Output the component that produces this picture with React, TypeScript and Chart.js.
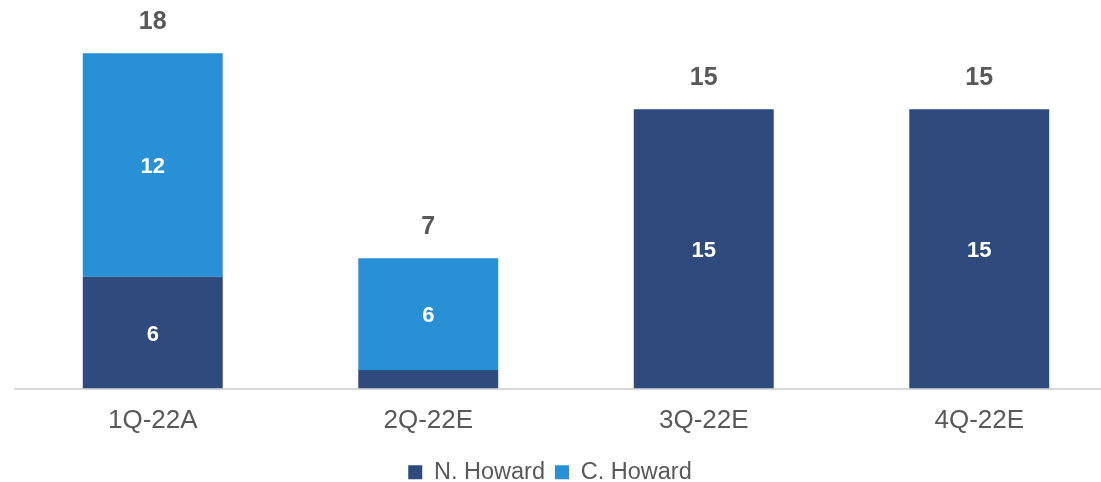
import React, { useEffect, useRef } from "react";
import { Chart, registerables } from "chart.js";

Chart.register(...registerables);

const categories = ["1Q-22A", "2Q-22E", "3Q-22E", "4Q-22E"];
const nHoward = [6, 1, 15, 15];
const cHoward = [12, 6, 0, 0];
const seriesNames = ["N. Howard", "C. Howard"];

const NAVY = "#2F4A7C";
const BLUE = "#2891D5";
const GREY_TEXT = "#595959";
const FONT = "'Liberation Sans', Arial, sans-serif";

const labelPlugin = {
  id: "barLabels",
  afterDatasetsDraw(chart: any) {
    const ctx = chart.ctx;
    ctx.save();
    ctx.textAlign = "center";
    ctx.textBaseline = "middle";
    chart.data.datasets.forEach((ds: any, di: number) => {
      const meta = chart.getDatasetMeta(di);
      meta.data.forEach((bar: any, i: number) => {
        const v = ds.data[i];
        if (v == null || v < 2) return;
        ctx.fillStyle = "#FFFFFF";
        ctx.font = `bold 22px ${FONT}`;
        ctx.fillText(String(v), bar.x, (bar.y + bar.base) / 2 + 2);
      });
    });
    const yScale = chart.scales.y;
    const meta0 = chart.getDatasetMeta(0);
    categories.forEach((_, i) => {
      let total = 0;
      chart.data.datasets.forEach((ds: any) => {
        total += ds.data[i] || 0;
      });
      const x = meta0.data[i].x;
      const y = yScale.getPixelForValue(total) - 31;
      ctx.fillStyle = GREY_TEXT;
      ctx.font = `bold 25px ${FONT}`;
      ctx.fillText(String(total), x, y);
    });
    ctx.restore();
  },
};

// The plot runs past the right edge of the visible window; keep the legend
// centred on the visible part.
const shiftLegendPlugin = {
  id: "shiftLegend",
  afterLayout(chart: any) {
    const lg = chart.legend;
    if (lg) {
      lg.left -= 16;
      lg.right -= 16;
    }
  },
};

export default function App() {
  const canvasRef = useRef<HTMLCanvasElement | null>(null);

  useEffect(() => {
    if (!canvasRef.current) return;
    const chart = new Chart(canvasRef.current, {
      type: "bar",
      data: {
        labels: categories,
        datasets: [
          {
            label: seriesNames[0],
            data: nHoward,
            backgroundColor: NAVY,
            borderWidth: 0,
            categoryPercentage: 1,
            barPercentage: 0.508,
          },
          {
            label: seriesNames[1],
            data: cHoward,
            backgroundColor: BLUE,
            borderWidth: 0,
            categoryPercentage: 1,
            barPercentage: 0.508,
          },
        ],
      },
      options: {
        animation: false,
        responsive: true,
        maintainAspectRatio: false,
        layout: { padding: { top: 16, left: 15, right: 0, bottom: -12 } },
        scales: {
          x: {
            stacked: true,
            grid: { display: false, drawTicks: false },
            border: { display: true, color: "#D9D9D9", width: 2 },
            ticks: {
              color: GREY_TEXT,
              font: { family: FONT, size: 26 },
              padding: 17,
              maxRotation: 0,
            },
            afterFit(scale: any) {
              scale.height = 62;
            },
          },
          y: {
            stacked: true,
            display: false,
            min: 0,
            max: 20,
          },
        },
        plugins: {
          legend: {
            position: "bottom",
            labels: {
              color: GREY_TEXT,
              font: { family: FONT, size: 23.5 },
              boxWidth: 14,
              boxHeight: 14,
              padding: 10,
            },
          },
          tooltip: { enabled: false },
        },
      },
      plugins: [labelPlugin, shiftLegendPlugin],
    });
    return () => chart.destroy();
  }, []);

  return (
    <div
      style={{
        position: "fixed",
        left: 0,
        top: 0,
        width: 1101,
        height: 482,
        overflow: "hidden",
        background: "#FFFFFF",
      }}
    >
      <div style={{ position: "relative", width: 1117, height: 482 }}>
        <canvas ref={canvasRef} />
      </div>
    </div>
  );
}
